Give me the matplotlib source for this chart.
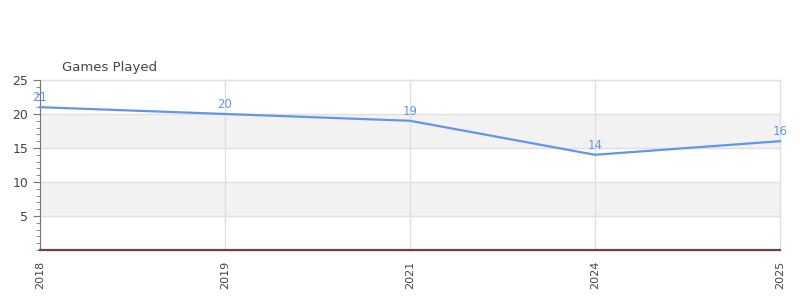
import matplotlib
matplotlib.use("Agg")
import matplotlib.pyplot as plt
from matplotlib.ticker import MultipleLocator

years = ["2018", "2019", "2021", "2024", "2025"]
games = [21, 20, 19, 14, 16]
yticks = [5, 10, 15, 20, 25]
title = "Games Played"

fig = plt.figure(figsize=(8, 3), dpi=100)
ax = fig.add_axes([0.05, 0.1667, 0.925, 0.5667])
x = list(range(len(years)))

for lo, hi in [(5, 10), (15, 20)]:
    ax.axhspan(lo, hi, color="#f2f2f2", zorder=0, lw=0)
for y in yticks:
    ax.axhline(y, color="#e0e0e0", lw=1, zorder=1, clip_on=False)
for xi in x:
    ax.axvline(xi, color="#e0e0e0", lw=1, zorder=1, clip_on=False)

ax.plot(x, games, color="#6495ed", lw=1.6, zorder=3, clip_on=False)
for xi, v in zip(x, games):
    ax.annotate(str(v), (xi, v), xytext=(0, 2), textcoords="offset points",
                ha="center", va="bottom", color="#6495ed", fontsize=8.5, zorder=4)

ax.set_xlim(0, len(years) - 1)
ax.set_ylim(0, 25)
ax.set_xticks(x)
ax.set_xticklabels(years, rotation=90, fontsize=8, color="#444444")
ax.set_yticks(yticks)
ax.set_yticklabels([str(t) for t in yticks], fontsize=9, color="#444444")
ax.yaxis.set_minor_locator(MultipleLocator(1))
ax.tick_params(axis="y", which="major", length=5, color="#777777")
ax.tick_params(axis="y", which="minor", length=3, color="#777777")
ax.tick_params(axis="x", length=0, pad=8)
for s in ["top", "right"]:
    ax.spines[s].set_visible(False)
ax.spines["left"].set_color("#777777")
ax.spines["bottom"].set_color("#555555")
ax.spines["bottom"].set_linewidth(1.6)
ax.spines["bottom"].set_zorder(5)
ax.axhline(0, color="#cc0000", lw=0.4, zorder=6, clip_on=False)

fig.text(62 / 800, 1 - 67 / 300, title, fontsize=9.5, color="#444444", ha="left", va="center")

fig.savefig("out.png", dpi=100)
